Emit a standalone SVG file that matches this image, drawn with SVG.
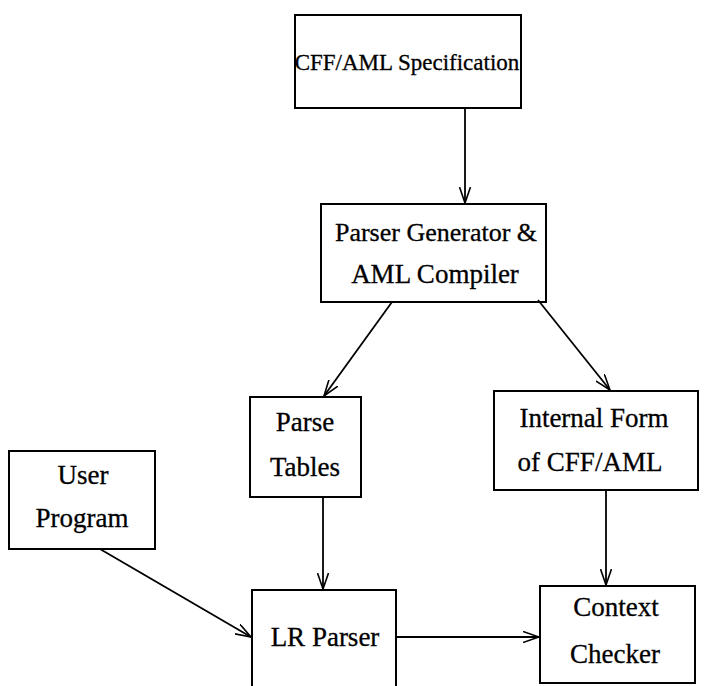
<svg xmlns="http://www.w3.org/2000/svg" width="718" height="686" viewBox="0 0 718 686">
<defs>
<marker id="ah" viewBox="0 0 16 12" refX="16" refY="6" markerWidth="16" markerHeight="12" markerUnits="userSpaceOnUse" orient="auto">
<path d="M0,0.5 L16,6 L0,11.5" fill="none" stroke="#000" stroke-width="1.6"/>
</marker>
<style>
rect{fill:#fff;stroke:#000;stroke-width:2}
text{font-family:"Liberation Serif","DejaVu Serif",serif;font-size:27px;fill:#000;stroke:#000;stroke-width:0.3;text-anchor:middle}
.c line{stroke:#000;stroke-width:1.8;marker-end:url(#ah)}
</style>
</defs>
<rect x="0" y="0" width="718" height="686" style="stroke:none"/>
<g id="cff"><rect x="295" y="15" width="226" height="93"/><text x="407" y="70" style="font-size:23px">CFF/AML Specification</text></g>
<g id="pg"><rect x="321" y="204" width="225" height="98"/><text x="436" y="241" style="font-size:26px">Parser Generator &amp;</text><text x="435" y="283">AML Compiler</text></g>
<g id="pt"><rect x="250" y="397" width="111" height="100"/><text x="305" y="431">Parse</text><text x="305" y="476">Tables</text></g>
<g id="if"><rect x="494" y="391" width="204" height="99"/><text x="594" y="427">Internal Form</text><text x="590" y="471">of CFF/AML</text></g>
<g id="up"><rect x="9" y="451" width="146" height="98"/><text x="83" y="484">User</text><text x="82" y="527">Program</text></g>
<g id="lr"><rect x="252" y="590" width="144" height="100"/><text x="325" y="646">LR Parser</text></g>
<g id="cc"><rect x="540" y="586" width="155" height="97"/><text x="616" y="616">Context</text><text x="615" y="663">Checker</text></g>
<g class="c" id="connectors">
<line x1="465" y1="108" x2="465" y2="203"/>
<line x1="392" y1="302" x2="324" y2="396"/>
<line x1="538" y1="300" x2="610" y2="390"/>
<line x1="323" y1="497" x2="323" y2="589"/>
<line x1="606" y1="490" x2="606" y2="585"/>
<line x1="100" y1="549" x2="251" y2="637"/>
<line x1="396" y1="637" x2="539" y2="637"/>
</g>
</svg>
